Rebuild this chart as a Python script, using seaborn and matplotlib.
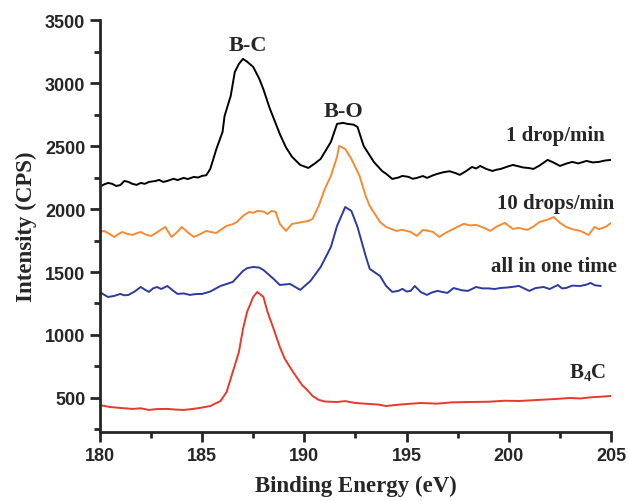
"""XPS B1s spectra: B4C reference vs. samples at different dropping rates."""

import matplotlib
matplotlib.use("Agg")
import matplotlib.pyplot as plt
import pandas as pd
import seaborn as sns
from matplotlib.ticker import AutoMinorLocator, MultipleLocator

# 1 drop/min
x_1drop = [180.0, 180.2, 180.4, 180.6, 180.8, 181.0, 181.2, 181.4, 181.6, 181.8,
           182.0, 182.2, 182.4, 182.7, 182.9, 183.1, 183.3, 183.6, 183.8, 184.1,
           184.3, 184.6, 184.8, 185.0, 185.2, 185.4, 185.7, 186.0, 186.1, 186.4,
           186.6, 186.8, 187.0, 187.2, 187.5, 187.8, 188.0, 188.3, 188.8, 189.1,
           189.4, 189.8, 190.2, 190.5, 190.8, 191.3, 191.6, 191.9, 192.1, 192.4,
           192.6, 192.9, 193.4, 193.8, 194.0, 194.3, 194.6, 194.8, 195.1, 195.3,
           195.5, 195.8, 196.0, 196.3, 196.5, 196.8, 197.1, 197.4, 197.6, 197.9,
           198.2, 198.4, 198.6, 198.9, 199.2, 199.4, 199.6, 199.9, 200.2, 200.5,
           200.7, 201.0, 201.2, 201.5, 201.9, 202.2, 202.5, 202.8, 203.1, 203.4,
           203.8, 204.1, 204.4, 204.7, 205.0]
y_1drop = [2175, 2195, 2207, 2200, 2183, 2190, 2223, 2215, 2199, 2192,
           2207, 2200, 2215, 2222, 2231, 2215, 2223, 2240, 2230, 2247,
           2238, 2255, 2250, 2263, 2268, 2318, 2477, 2612, 2739, 2898,
           3088, 3152, 3192, 3170, 3128, 3033, 2950, 2803, 2596, 2490,
           2414, 2350, 2326, 2360, 2398, 2533, 2676, 2684, 2676, 2670,
           2652, 2501, 2374, 2302, 2280, 2239, 2250, 2263, 2255, 2240,
           2247, 2262, 2247, 2268, 2279, 2292, 2300, 2285, 2271, 2300,
           2334, 2322, 2342, 2318, 2302, 2312, 2318, 2335, 2350, 2338,
           2330, 2325, 2318, 2345, 2390, 2368, 2342, 2360, 2374, 2362,
           2382, 2370, 2374, 2385, 2390]

# 10 drops/min
x_10drop = [180.0, 180.2, 180.4, 180.7, 180.9, 181.1, 181.3, 181.6, 181.8, 182.0,
            182.2, 182.5, 182.8, 183.2, 183.5, 183.8, 184.0, 184.3, 184.6, 184.9,
            185.2, 185.5, 185.7, 186.0, 186.2, 186.5, 186.7, 187.0, 187.3, 187.5,
            187.7, 188.0, 188.2, 188.4, 188.6, 188.8, 189.1, 189.4, 189.7, 189.9,
            190.2, 190.4, 190.7, 191.0, 191.3, 191.6, 191.7, 192.0, 192.3, 192.7,
            193.0, 193.2, 193.7, 194.0, 194.5, 194.8, 195.2, 195.5, 195.8, 196.1,
            196.3, 196.6, 196.9, 197.2, 197.5, 197.8, 198.1, 198.4, 198.8, 199.1,
            199.4, 199.8, 200.2, 200.5, 200.9, 201.2, 201.5, 201.9, 202.2, 202.5,
            202.8, 203.1, 203.5, 203.9, 204.2, 204.4, 204.6, 204.8, 205.0]
y_10drop = [1818, 1826, 1810, 1778, 1800, 1818, 1805, 1794, 1808, 1818,
            1800, 1786, 1815, 1858, 1778, 1820, 1858, 1815, 1778, 1800,
            1826, 1815, 1810, 1845, 1866, 1880, 1897, 1945, 1977, 1970,
            1985, 1980, 1961, 1985, 1977, 1882, 1826, 1882, 1890, 1897,
            1905, 1921, 2024, 2159, 2263, 2414, 2501, 2477, 2398, 2263,
            2104, 2024, 1897, 1858, 1826, 1835, 1818, 1786, 1834, 1825,
            1818, 1778, 1810, 1834, 1860, 1882, 1870, 1874, 1850, 1826,
            1860, 1890, 1842, 1850, 1834, 1860, 1897, 1915, 1937, 1890,
            1858, 1840, 1826, 1794, 1858, 1840, 1850, 1865, 1890]

# all in one time
x_allone = [180.0, 180.2, 180.4, 180.7, 181.0, 181.2, 181.4, 181.7, 182.0, 182.2,
            182.4, 182.6, 182.8, 183.0, 183.3, 183.6, 183.8, 184.1, 184.4, 184.7,
            185.0, 185.4, 185.9, 186.5, 187.0, 187.2, 187.5, 187.8, 188.0, 188.5,
            188.8, 189.3, 189.8, 190.3, 190.8, 191.3, 191.6, 192.0, 192.3, 192.6,
            193.0, 193.2, 193.7, 194.0, 194.3, 194.6, 194.8, 195.0, 195.2, 195.4,
            195.7, 196.0, 196.2, 196.5, 196.8, 197.0, 197.3, 197.7, 198.0, 198.4,
            198.7, 199.0, 199.3, 199.6, 200.0, 200.5, 201.0, 201.3, 201.7, 202.0,
            202.4, 202.6, 202.8, 203.1, 203.5, 203.8, 204.0, 204.2, 204.5]
y_allone = [1342, 1320, 1302, 1310, 1326, 1315, 1318, 1345, 1381, 1360,
            1342, 1370, 1381, 1365, 1389, 1350, 1326, 1330, 1318, 1325,
            1326, 1345, 1389, 1421, 1508, 1530, 1540, 1535, 1516, 1445,
            1397, 1405, 1358, 1429, 1540, 1699, 1866, 2016, 1985, 1858,
            1627, 1524, 1469, 1389, 1342, 1350, 1366, 1345, 1350, 1389,
            1340, 1318, 1335, 1350, 1340, 1334, 1373, 1355, 1350, 1381,
            1370, 1370, 1365, 1373, 1378, 1389, 1350, 1372, 1381, 1365,
            1397, 1370, 1373, 1392, 1389, 1400, 1413, 1395, 1389]

# B4C reference
x_b4c = [180.0, 180.5, 181.0, 181.6, 182.0, 182.4, 182.8, 183.3, 183.7, 184.1,
         184.5, 184.9, 185.4, 185.9, 186.2, 186.5, 186.8, 187.0, 187.2, 187.5,
         187.7, 188.0, 188.2, 188.5, 188.8, 189.05, 189.45, 189.9, 190.1, 190.4,
         190.7, 191.0, 191.6, 192.0, 192.5, 193.2, 193.6, 194.0, 194.5, 195.0,
         195.7, 196.5, 197.2, 198.1, 199.0, 199.8, 200.5, 201.5, 202.3, 203.0,
         203.5, 204.0, 204.5, 205.0]
y_b4c = [444, 428, 421, 413, 418, 405, 412, 413, 408, 405,
         412, 421, 436, 476, 548, 706, 865, 1048, 1183, 1302,
         1342, 1302, 1183, 1048, 905, 809, 706, 600, 571, 516,
         485, 472, 468, 475, 460, 452, 448, 436, 445, 452,
         460, 455, 465, 468, 470, 478, 476, 485, 492, 500,
         496, 505, 510, 516]

SERIES = [
    ("1 drop/min", x_1drop, y_1drop, "#000000"),
    ("10 drops/min", x_10drop, y_10drop, "#F68B33"),
    ("all in one time", x_allone, y_allone, "#2D3A9E"),
    ("B4C", x_b4c, y_b4c, "#E8392B"),
]

LABELS = [
    ("B-C", 187.25, 3300, 16),
    ("B-O", 191.9, 2775, 16),
    ("1 drop/min", 202.3, 2590, 15),
    ("10 drops/min", 202.3, 2050, 15),
    ("all in one time", 202.2, 1550, 15),
    ("B$_{4}$C", 203.85, 710, 15),
]

sns.set_style("ticks")
plt.rcParams["font.family"] = ["Liberation Sans", "DejaVu Sans"]
plt.rcParams["font.weight"] = "bold"
plt.rcParams["mathtext.fontset"] = "custom"
plt.rcParams["mathtext.rm"] = "Liberation Serif:bold"
plt.rcParams["mathtext.it"] = "Liberation Serif:bold"
plt.rcParams["mathtext.bf"] = "Liberation Serif:bold"

fig, ax = plt.subplots(figsize=(6.28, 5.02), dpi=100)
fig.subplots_adjust(left=0.159, right=0.973, bottom=0.1375, top=0.958)

for name, xs, ys, color in SERIES:
    df = pd.DataFrame({"x": xs, "y": ys})
    sns.lineplot(data=df, x="x", y="y", color=color, linewidth=1.4, ax=ax)

serif = ["Liberation Serif", "DejaVu Serif"]
for text, tx, ty, size in LABELS:
    ax.text(tx, ty, text, ha="center", va="center", fontsize=size,
            fontweight="bold", family=serif)

ax.set_xlim(180, 205)
ax.set_ylim(230, 3500)
ax.xaxis.set_major_locator(MultipleLocator(5))
ax.xaxis.set_minor_locator(AutoMinorLocator(2))
ax.yaxis.set_major_locator(MultipleLocator(500))
ax.yaxis.set_minor_locator(AutoMinorLocator(2))

ax.set_xlabel("Binding Energy (eV)", fontsize=16.5, fontweight="bold",
              family=serif, labelpad=8)
ax.set_ylabel("Intensity (CPS)", fontsize=16.5, fontweight="bold",
              family=serif, labelpad=6)

sns.despine(ax=ax)
for side in ("left", "bottom"):
    ax.spines[side].set_linewidth(2)
ax.tick_params(axis="both", which="major", direction="out", length=7, width=2,
               labelsize=13)
ax.tick_params(axis="both", which="minor", direction="out", length=4, width=2)
for lbl in ax.get_xticklabels() + ax.get_yticklabels():
    lbl.set_fontweight("bold")

fig.savefig("out.png", dpi=100)
plt.close(fig)
